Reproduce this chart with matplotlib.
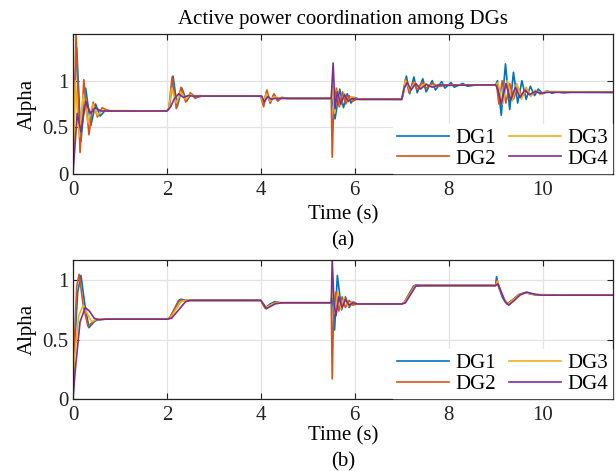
import matplotlib
matplotlib.use("Agg")
import matplotlib.pyplot as plt

plt.rcParams['font.family'] = ['Liberation Serif', 'DejaVu Serif']
plt.rcParams['mathtext.fontset'] = 'stix'

# ---------------- data (keypoints) ----------------
labels = ["DG1", "DG2", "DG3", "DG4"]
colors = ["#0072BD", "#D95319", "#EDB120", "#7E2F8E"]
x_ticks = [0, 2, 4, 6, 8, 10]
y_ticks = [0, 0.5, 1]
title = "Active power coordination among DGs"

# Panel (a)
a_dg1 = [(0, 0), (0.01, 0.6), (0.08, 1.35), (0.17, 0.35), (0.27, 0.92), (0.38, 0.52), (0.48, 0.75),
         (0.58, 0.62), (0.7, 0.69), (0.8, 0.675), (2.0, 0.675), (2.05, 0.70), (2.13, 1.05), (2.22, 0.72),
         (2.32, 0.92), (2.42, 0.78), (2.52, 0.86), (2.62, 0.82), (2.75, 0.835), (4.0, 0.835), (4.05, 0.75),
         (4.12, 0.88), (4.2, 0.76), (4.28, 0.85), (4.36, 0.79), (4.45, 0.82), (4.55, 0.81), (5.5, 0.81),
         (5.52, 0.80), (5.58, 0.59), (5.68, 0.91), (5.76, 0.71), (5.84, 0.86), (5.92, 0.76), (6.0, 0.82),
         (6.1, 0.80), (7.0, 0.80), (7.03, 0.85), (7.1, 1.05), (7.17, 0.86), (7.26, 1.04), (7.33, 0.87),
         (7.45, 1.02), (7.52, 0.88), (7.65, 1.0), (7.72, 0.90), (7.85, 0.99), (7.92, 0.92), (8.05, 0.98),
         (8.12, 0.93), (8.3, 0.97), (8.4, 0.94), (8.6, 0.955), (9.0, 0.955), (9.04, 1.0), (9.12, 0.63),
         (9.21, 1.18), (9.30, 0.69), (9.38, 1.09), (9.47, 0.76), (9.56, 1.0), (9.65, 0.80), (9.74, 0.94),
         (9.83, 0.84), (9.91, 0.91), (10.0, 0.86), (10.1, 0.89), (10.2, 0.865), (10.3, 0.88), (10.45, 0.87),
         (10.6, 0.876), (11.5, 0.875)]
a_dg2 = [(0, 0), (0.064, 1.5), (0.15, 0.23), (0.23, 1.01), (0.34, 0.42), (0.43, 0.77), (0.52, 0.61),
         (0.62, 0.71), (0.75, 0.675), (2.0, 0.675), (2.04, 0.70), (2.11, 1.04), (2.2, 0.70), (2.3, 0.93),
         (2.4, 0.77), (2.5, 0.87), (2.6, 0.81), (2.7, 0.84), (2.8, 0.835), (4.0, 0.835), (4.06, 0.72),
         (4.13, 0.90), (4.2, 0.76), (4.28, 0.86), (4.36, 0.78), (4.45, 0.82), (4.55, 0.81), (5.5, 0.81),
         (5.52, 0.18), (5.55, 0.70), (5.61, 0.92), (5.67, 0.72), (5.74, 0.88), (5.81, 0.75), (5.88, 0.84),
         (5.96, 0.78), (6.05, 0.805), (7.0, 0.80), (7.03, 0.86), (7.08, 1.02), (7.16, 0.87), (7.25, 0.99),
         (7.33, 0.90), (7.43, 0.98), (7.52, 0.92), (7.65, 0.97), (7.8, 0.94), (8.0, 0.955), (9.0, 0.955),
         (9.02, 0.96), (9.07, 0.75), (9.14, 1.0), (9.22, 0.76), (9.3, 0.97), (9.38, 0.80), (9.47, 0.93),
         (9.56, 0.83), (9.65, 0.90), (9.74, 0.85), (9.85, 0.89), (9.95, 0.86), (10.1, 0.88), (11.5, 0.875)]
a_dg3 = [(0, 0), (0.05, 1.0), (0.13, 0.4), (0.22, 0.85), (0.32, 0.55), (0.42, 0.75), (0.52, 0.63),
         (0.62, 0.68), (2.0, 0.675), (2.04, 0.70), (2.1, 0.92), (2.2, 0.76), (2.3, 0.88), (2.4, 0.80),
         (2.5, 0.85), (2.6, 0.835), (4.0, 0.835), (4.05, 0.77), (4.12, 0.86), (4.2, 0.78), (4.28, 0.83),
         (4.38, 0.81), (5.5, 0.81), (5.52, 0.95), (5.57, 0.65), (5.63, 0.90), (5.7, 0.73), (5.78, 0.86),
         (5.86, 0.77), (5.94, 0.83), (6.05, 0.80), (7.0, 0.80), (7.03, 0.86), (7.08, 1.0), (7.18, 0.90),
         (7.28, 0.98), (7.38, 0.92), (7.5, 0.97), (7.65, 0.94), (7.8, 0.96), (8.0, 0.95), (9.0, 0.955),
         (9.05, 0.98), (9.15, 0.75), (9.25, 1.0), (9.35, 0.78), (9.45, 0.97), (9.55, 0.80), (9.65, 0.93),
         (9.75, 0.83), (9.85, 0.90), (9.95, 0.85), (10.05, 0.885), (11.5, 0.875)]
a_dg4 = [(0, 0), (0.09, 0.65), (0.17, 0.45), (0.27, 0.78), (0.37, 0.65), (0.47, 0.71), (0.6, 0.675),
         (2.0, 0.675), (2.08, 0.72), (2.15, 0.80), (2.25, 0.86), (2.35, 0.82), (2.45, 0.84), (2.55, 0.835),
         (4.0, 0.835), (4.02, 0.835), (4.07, 0.77), (4.15, 0.83), (4.22, 0.80), (4.3, 0.81), (5.5, 0.81),
         (5.54, 1.19), (5.58, 0.70), (5.63, 0.88), (5.7, 0.75), (5.78, 0.85), (5.86, 0.78), (5.95, 0.81),
         (6.05, 0.80), (7.0, 0.80), (7.05, 0.92), (7.12, 0.98), (7.2, 0.90), (7.3, 0.97), (7.4, 0.91),
         (7.52, 0.96), (7.65, 0.93), (7.8, 0.955), (8.0, 0.95), (9.0, 0.955), (9.05, 0.90), (9.12, 0.75),
         (9.22, 0.97), (9.32, 0.79), (9.42, 0.93), (9.52, 0.82), (9.62, 0.90), (9.72, 0.85), (9.85, 0.885),
         (9.95, 0.865), (10.1, 0.875), (11.5, 0.875)]

# Panel (b)
b_dg1 = [(0, 0), (0.02, 0.35), (0.1, 0.9), (0.17, 1.04), (0.25, 0.8), (0.34, 0.6), (0.45, 0.65),
         (0.55, 0.675), (0.7, 0.672), (2.0, 0.672), (2.06, 0.68), (2.25, 0.83), (2.3, 0.84), (2.4, 0.83),
         (4.0, 0.83), (4.05, 0.80), (4.1, 0.77), (4.2, 0.80), (4.3, 0.82), (4.4, 0.81), (5.5, 0.81),
         (5.52, 0.9), (5.57, 0.58), (5.63, 1.04), (5.72, 0.75), (5.8, 0.86), (5.88, 0.77), (5.96, 0.82),
         (6.05, 0.80), (7.0, 0.80), (7.05, 0.81), (7.25, 0.95), (7.3, 0.96), (7.45, 0.955), (9.0, 0.955),
         (9.02, 1.03), (9.06, 0.95), (9.15, 0.85), (9.24, 0.80), (9.35, 0.83), (9.5, 0.88), (9.63, 0.895),
         (9.8, 0.88), (10.0, 0.874), (11.5, 0.874)]
b_dg2 = [(0, 0), (0.02, 0.4), (0.08, 0.95), (0.13, 1.05), (0.22, 0.78), (0.32, 0.61), (0.42, 0.65),
         (0.52, 0.675), (0.7, 0.672), (2.0, 0.672), (2.05, 0.68), (2.27, 0.83), (2.4, 0.83), (4.0, 0.83),
         (4.05, 0.79), (4.1, 0.76), (4.2, 0.79), (4.32, 0.815), (4.45, 0.81), (5.5, 0.81), (5.52, 0.17),
         (5.55, 0.75), (5.6, 0.9), (5.66, 0.74), (5.73, 0.86), (5.8, 0.77), (5.88, 0.83), (5.96, 0.79),
         (6.05, 0.80), (7.0, 0.80), (7.05, 0.81), (7.27, 0.95), (7.3, 0.955), (7.45, 0.955), (9.0, 0.955),
         (9.03, 1.0), (9.08, 0.93), (9.18, 0.84), (9.26, 0.80), (9.38, 0.84), (9.5, 0.88), (9.65, 0.895),
         (9.85, 0.878), (11.5, 0.874)]
b_dg3 = [(0, 0), (0.02, 0.3), (0.12, 0.7), (0.22, 0.79), (0.3, 0.72), (0.4, 0.65), (0.5, 0.672),
         (2.0, 0.672), (2.07, 0.68), (2.3, 0.82), (2.4, 0.83), (4.0, 0.83), (4.07, 0.79), (4.12, 0.77),
         (4.25, 0.8), (4.35, 0.81), (5.5, 0.81), (5.53, 0.95), (5.58, 0.72), (5.64, 0.9), (5.71, 0.76),
         (5.78, 0.85), (5.86, 0.78), (5.94, 0.82), (6.05, 0.80), (7.0, 0.80), (7.06, 0.81), (7.28, 0.95),
         (7.45, 0.955), (9.0, 0.955), (9.04, 0.99), (9.1, 0.92), (9.2, 0.83), (9.27, 0.80), (9.4, 0.84),
         (9.52, 0.88), (9.65, 0.895), (9.85, 0.878), (11.5, 0.874)]
b_dg4 = [(0, 0), (0.05, 0.25), (0.15, 0.65), (0.26, 0.77), (0.35, 0.74), (0.45, 0.68), (0.55, 0.665),
         (0.7, 0.672), (2.0, 0.672), (2.1, 0.68), (2.4, 0.82), (2.5, 0.83), (4.0, 0.83), (4.12, 0.76),
         (4.3, 0.8), (4.45, 0.81), (5.5, 0.81), (5.52, 1.17), (5.56, 0.8), (5.6, 0.7), (5.66, 0.86),
         (5.73, 0.77), (5.8, 0.84), (5.88, 0.79), (5.96, 0.81), (6.05, 0.80), (7.0, 0.80), (7.08, 0.81),
         (7.3, 0.95), (7.45, 0.955), (9.0, 0.955), (9.05, 0.97), (9.12, 0.9), (9.2, 0.82), (9.28, 0.79),
         (9.4, 0.83), (9.52, 0.875), (9.66, 0.9), (9.85, 0.88), (10.0, 0.874), (11.5, 0.874)]

panels = [
    dict(series=[a_dg1, a_dg2, a_dg3, a_dg4], ylim=(0, 1.5), tag="(a)", xpad=4),
    dict(series=[b_dg1, b_dg2, b_dg3, b_dg4], ylim=(0, 1.17), tag="(b)", xpad=1),
]

# ---------------- figure ----------------
W, H = 616, 471
fig = plt.figure(figsize=(W / 100, H / 100), dpi=100)
rects = [(73, 34, 613, 174), (73, 260, 613, 399)]
tag_y = [241, 462]

for p, (l, t, r, b), ty in zip(panels, rects, tag_y):
    ax = fig.add_axes([l / W, 1 - b / H, (r - l) / W, (b - t) / H])
    for data, lab, col in zip(p["series"], labels, colors):
        xs = [d[0] for d in data]
        ys = [d[1] for d in data]
        ax.plot(xs, ys, color=col, lw=1.2, label=lab)
    ax.set_xlim(0, 11.5)
    ax.set_ylim(*p["ylim"])
    ax.set_xticks(x_ticks)
    ax.set_yticks(y_ticks)
    ax.set_yticklabels(["0", "0.5", "1"])
    ax.grid(True, color="#e3e3e3", lw=0.9)
    ax.set_axisbelow(True)
    ax.tick_params(direction="in", top=True, right=True, length=4, width=0.8,
                   labelsize=15, colors="#222222")
    ax.tick_params(axis="x", pad=5)
    ax.tick_params(axis="y", pad=3)
    for s in ax.spines.values():
        s.set_linewidth(0.9)
        s.set_color("#222222")
    ax.set_ylabel("Alpha", fontsize=15, labelpad=4)
    ax.set_xlabel("Time (s)", fontsize=15, labelpad=p["xpad"])
    leg = ax.legend(ncol=2, loc="lower right", fontsize=15, frameon=True, fancybox=False,
                    framealpha=1, edgecolor="white", facecolor="white", borderaxespad=0.05,
                    borderpad=0.2, labelspacing=0.05, handlelength=2.5, handletextpad=0.3,
                    columnspacing=0.6)
    fig.text(0.5 * (l + r) / W, 1 - ty / H, p["tag"], ha="center", va="center", fontsize=15)
    if p["tag"] == "(a)":
        ax.set_title(title, fontsize=15, pad=7)

fig.savefig("out.png", dpi=100)
